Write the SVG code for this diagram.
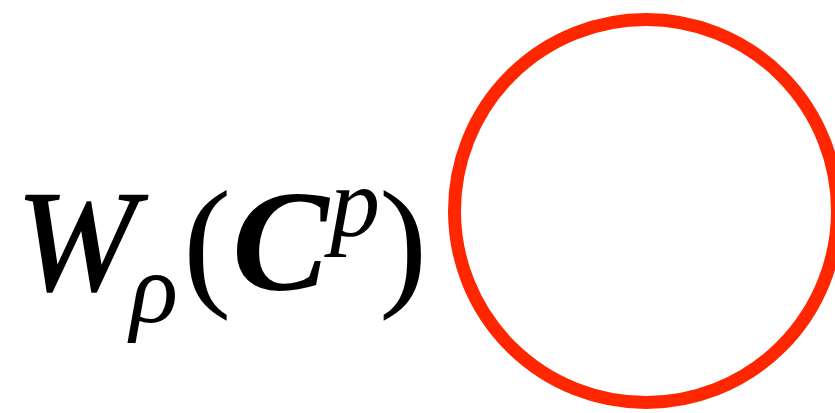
<svg xmlns="http://www.w3.org/2000/svg" width="835" height="413" viewBox="0 0 835 413">
<style>
.m{font-family:"Liberation Serif","Times New Roman",serif;fill:#000}
.big{font-size:145px}
.sm{font-size:100px}
.bi{font-style:italic;font-weight:bold}
.it{font-style:italic}
.thick{stroke:#000;stroke-width:1.4px;stroke-linejoin:round}
</style>
<rect width="835" height="413" fill="#fff"/>
<g id="label">
<text class="m big it thick" x="16" y="290">W</text>
<text class="m sm it" x="130" y="322">ρ</text>
<text class="m big" x="183" y="290">(</text>
<text class="m big bi" x="232" y="290">C</text>
<text class="m sm it" x="330" y="236">p</text>
<text class="m big" x="379" y="290">)</text>
</g>
<g id="circle">
<circle cx="646" cy="211" r="191.5" fill="none" stroke="#FF2600" stroke-width="13"/>
</g>
</svg>
